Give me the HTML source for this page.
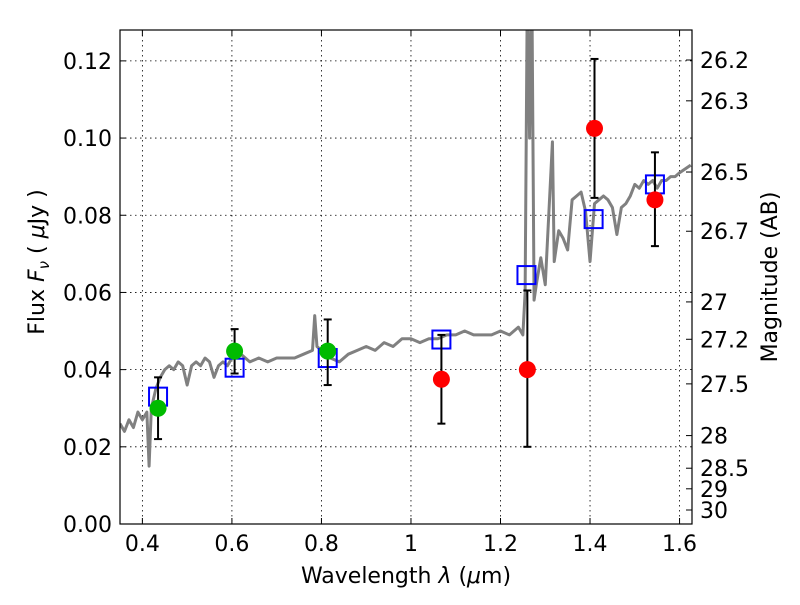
<!DOCTYPE html>
<html><head><meta charset="utf-8"><style>
body{margin:0;background:#fff;font-family:"Liberation Sans","DejaVu Sans",sans-serif}
svg text{font-family:"DejaVu Sans","Liberation Sans",sans-serif;font-size:22px;fill:#000}
</style></head><body>
<svg id="chart" width="800" height="600" viewBox="0 0 800 600" xmlns="http://www.w3.org/2000/svg">
<defs><clipPath id="clip"><rect x="120" y="30" width="572" height="494"/></clipPath></defs>
<rect width="800" height="600" fill="#fff"/>
<g id="grid"></g>
<g id="spec" clip-path="url(#clip)"></g>
<g id="marks"></g>
<rect x="120" y="30" width="572" height="494" fill="none" stroke="#000" stroke-width="1.2"/>
<g id="axes"></g>
<text x="406" y="583" text-anchor="middle">Wavelength  <tspan font-style="italic">λ</tspan> (<tspan font-style="italic">μ</tspan>m)</text>
<text transform="translate(44,262) rotate(-90)" text-anchor="middle">Flux  <tspan font-style="italic">F<tspan font-size="15" dy="5">ν</tspan></tspan><tspan dy="-5">  (  <tspan font-style="italic">μ</tspan>Jy )</tspan></text>
<text transform="translate(777,277) rotate(-90)" text-anchor="middle">Magnitude (AB)</text>
</svg>
<script>
const xTicks=[0.4,0.6,0.8,1.0,1.2,1.4,1.6];
const xTickLabels=["0.4","0.6","0.8","1","1.2","1.4","1.6"];
const yTicks=[0,0.02,0.04,0.06,0.08,0.10,0.12];
const yTickLabels=["0.00","0.02","0.04","0.06","0.08","0.10","0.12"];
const magTicks=[26.2,26.3,26.5,26.7,27,27.2,27.5,28,28.5,29,30];
const magTickLabels=["26.2","26.3","26.5","26.7","27","27.2","27.5","28","28.5","29","30"];
const specX=[0.35,0.36,0.37,0.38,0.39,0.40,0.41,0.415,0.42,0.43,0.44,0.45,0.46,0.47,0.48,0.49,0.50,0.51,0.52,0.53,0.54,0.55,0.56,0.57,0.58,0.59,0.60,0.62,0.64,0.66,0.68,0.70,0.72,0.74,0.76,0.78,0.785,0.79,0.80,0.82,0.84,0.86,0.88,0.90,0.92,0.94,0.96,0.98,1.00,1.02,1.04,1.06,1.08,1.10,1.12,1.14,1.16,1.18,1.20,1.22,1.24,1.25,1.255,1.26,1.265,1.27,1.275,1.28,1.29,1.30,1.316,1.32,1.33,1.34,1.35,1.36,1.37,1.38,1.39,1.40,1.41,1.42,1.43,1.44,1.45,1.46,1.47,1.48,1.49,1.50,1.51,1.52,1.53,1.54,1.55,1.56,1.57,1.58,1.59,1.60,1.625];
const specF=[0.026,0.024,0.027,0.025,0.029,0.027,0.029,0.015,0.030,0.035,0.038,0.040,0.041,0.040,0.042,0.041,0.036,0.041,0.042,0.041,0.043,0.042,0.038,0.041,0.042,0.041,0.043,0.044,0.042,0.043,0.042,0.043,0.043,0.043,0.044,0.045,0.054,0.046,0.045,0.043,0.042,0.044,0.045,0.046,0.045,0.047,0.046,0.048,0.048,0.047,0.048,0.048,0.049,0.049,0.050,0.049,0.049,0.049,0.050,0.049,0.051,0.049,0.060,0.14,0.10,0.14,0.058,0.062,0.069,0.062,0.099,0.068,0.076,0.074,0.071,0.084,0.085,0.086,0.081,0.068,0.083,0.084,0.085,0.084,0.082,0.075,0.082,0.083,0.085,0.088,0.087,0.089,0.088,0.089,0.087,0.089,0.089,0.090,0.090,0.091,0.093,0.093];
const blueX=[0.435,0.606,0.814,1.068,1.258,1.408,1.545];
const blueF=[0.0330,0.0405,0.0430,0.0478,0.0645,0.0790,0.0880];
const greenX=[0.435,0.606,0.814];
const greenF=[0.030,0.0448,0.0448];
const greenLo=[0.022,0.039,0.036];
const greenHi=[0.038,0.0505,0.053];
const redX=[1.068,1.26,1.41,1.545];
const redF=[0.0375,0.040,0.1025,0.084];
const redLo=[0.026,0.020,0.0845,0.072];
const redHi=[0.049,0.0605,0.1205,0.0963];

const NS="http://www.w3.org/2000/svg";
const X0=120,X1=692,Y0=524,Y1=30,XMIN=0.35,XMAX=1.6278,YMIN=0,YMAX=0.128;
const sx=v=>X0+(v-XMIN)/(XMAX-XMIN)*(X1-X0);
const sy=v=>Y0-(v-YMIN)/(YMAX-YMIN)*(Y0-Y1);
const magToF=m=>Math.pow(10,(23.9-m)/2.5);
function mk(tag,attrs,parent){const e=document.createElementNS(NS,tag);for(const k in attrs)e.setAttribute(k,attrs[k]);parent.appendChild(e);return e;}
const grid=document.getElementById('grid'),axes=document.getElementById('axes');
xTicks.forEach((t,i)=>{const x=sx(t);
 const g=mk('line',{x1:x,x2:x,y1:Y1,y2:Y0,stroke:'#000','stroke-width':0.8,'stroke-dasharray':'1.5,3.5'},grid);
 
 
 mk('line',{x1:x,x2:x,y1:Y0,y2:Y0-6,stroke:'#000'},axes);
 mk('line',{x1:x,x2:x,y1:Y1,y2:Y1+6,stroke:'#000'},axes);
 const tx=mk('text',{x:x,y:Y0+27,'text-anchor':'middle'},axes);tx.textContent=xTickLabels[i];
 
 
});
yTicks.forEach((t,i)=>{const y=sy(t);
 const g=mk('line',{x1:X0,x2:X1,y1:y,y2:y,stroke:'#000','stroke-width':0.8,'stroke-dasharray':'1.5,3.5'},grid);
 
 
 mk('line',{x1:X0,x2:X0+6,y1:y,y2:y,stroke:'#000'},axes);
 const tx=mk('text',{x:X0-8,y:y+8,'text-anchor':'end'},axes);tx.textContent=yTickLabels[i];
 
 
});
magTicks.forEach((m,i)=>{const y=sy(magToF(m));
 mk('line',{x1:X1-6,x2:X1,y1:y,y2:y,stroke:'#000'},axes);
 const tx=mk('text',{x:X1+8,y:y+8,'text-anchor':'start'},axes);tx.textContent=magTickLabels[i];
 
 
});
const spec=document.getElementById('spec');
const p=mk('polyline',{points:specX.map((x,i)=>sx(x)+','+sy(specF[i])).join(' '),fill:'none',stroke:'#808080','stroke-width':3,'stroke-linejoin':'round'},spec);


const marks=document.getElementById('marks');
function errbar(x,lo,hi){const X=sx(x);
 const g=mk('g',{stroke:'#000','stroke-width':2},marks);
 
 
 mk('line',{x1:X,x2:X,y1:sy(lo),y2:sy(hi)},g);
 mk('line',{x1:X-4,x2:X+4,y1:sy(lo),y2:sy(lo)},g);
 mk('line',{x1:X-4,x2:X+4,y1:sy(hi),y2:sy(hi)},g);}
blueX.forEach((x,i)=>{const r=mk('rect',{x:sx(x)-9,y:sy(blueF[i])-9,width:18,height:18,fill:'none',stroke:'#0000ff','stroke-width':2},marks);
 
 });
greenX.forEach((x,i)=>{errbar(x,greenLo[i],greenHi[i]);
 const c=mk('circle',{cx:sx(x),cy:sy(greenF[i]),r:8.5,fill:'#00bb00'},marks);
 
 });
redX.forEach((x,i)=>{errbar(x,redLo[i],redHi[i]);
 const c=mk('circle',{cx:sx(x),cy:sy(redF[i]),r:8.5,fill:'#ff0000'},marks);
 
 });
</script>
</body></html>
